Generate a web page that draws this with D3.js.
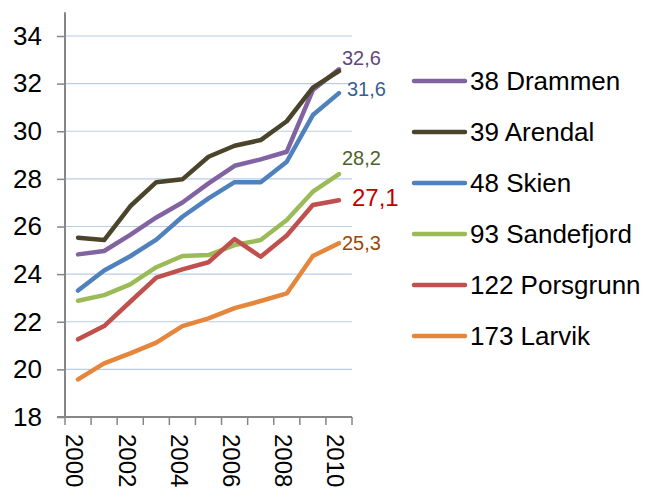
<!DOCTYPE html>
<html>
<head>
<meta charset="utf-8">
<script src="https://cdn.jsdelivr.net/npm/d3@7"></script>
<style>
  body { margin: 0; background: #fff; }
  text { font-family: "Liberation Sans", Arial, sans-serif; }
</style>
</head>
<body>
<div id="chart"></div>
<script>
// data
var years = ["2000", "2001", "2002", "2003", "2004", "2005", "2006", "2007", "2008", "2009", "2010"];
var yTicks = [18, 20, 22, 24, 26, 28, 30, 32, 34];
var yearLabels = ["2000", "2002", "2004", "2006", "2008", "2010"];

var seriesNames = ["38 Drammen", "39 Arendal", "48 Skien", "93 Sandefjord", "122 Porsgrunn", "173 Larvik"];
var drammen    = [24.83, 24.97, 25.65, 26.38, 27.01, 27.81, 28.55, 28.82, 29.14, 31.73, 32.6];
var arendal    = [25.53, 25.43, 26.85, 27.86, 27.98, 28.93, 29.39, 29.63, 30.42, 31.83, 32.53];
var skien      = [23.31, 24.15, 24.75, 25.45, 26.41, 27.18, 27.86, 27.86, 28.72, 30.68, 31.6];
var sandefjord = [22.88, 23.12, 23.57, 24.29, 24.76, 24.8, 25.22, 25.43, 26.27, 27.46, 28.2];
var porsgrunn  = [21.26, 21.82, 22.84, 23.85, 24.2, 24.5, 25.47, 24.73, 25.62, 26.9, 27.1];
var larvik     = [19.58, 20.25, 20.67, 21.12, 21.82, 22.14, 22.57, 22.87, 23.19, 24.76, 25.3];
var endLabels  = ["32,6", null, "31,6", "28,2", "27,1", "25,3"];

var colors = ["#8064A2", "#4A452A", "#4F81BD", "#9BBB59", "#C0504D", "#E6853C"];
var labelColors = ["#5F497A", null, "#376092", "#4F6228", "#C00000", "#984807"];

var width = 647, height = 491;

var svg = d3.select("#chart")
    .append("svg")
    .attr("width", width)
    .attr("height", height);

var allSeries = [drammen, arendal, skien, sandefjord, porsgrunn, larvik];

var x = d3.scaleBand()
    .domain(years)
    .range([65, 352]);

var y = d3.scaleLinear()
    .domain([18, 34])
    .range([417, 36]);

function px(d, i) { return x(years[i]) + x.bandwidth() / 2; }

// gridlines
svg.append("g")
    .selectAll("line")
    .data(yTicks.filter(function (t) { return t > 18; }))
    .enter()
    .append("line")
    .attr("x1", 65)
    .attr("x2", 352)
    .attr("y1", function (d) { return y(d); })
    .attr("y2", function (d) { return y(d); })
    .attr("stroke", "#B9CDE5")
    .attr("stroke-width", 1.2);

// y axis
var yAxis = svg.append("g")
    .attr("transform", "translate(65,0)")
    .call(d3.axisLeft(y).tickValues(yTicks).tickSize(8).tickPadding(15));
yAxis.select(".domain").remove();
yAxis.append("line")
    .attr("x1", 0).attr("x2", 0)
    .attr("y1", y(35)).attr("y2", y(18))
    .attr("stroke", "#868686")
    .attr("stroke-width", 2);
yAxis.selectAll(".tick line").attr("stroke", "#868686").attr("stroke-width", 1.5);
yAxis.selectAll(".tick text")
    .attr("font-size", "26px")
    .attr("fill", "#000");

// x axis
var xAxis = svg.append("g")
    .attr("transform", "translate(0,417)");
xAxis.append("line")
    .attr("x1", 57).attr("x2", 352)
    .attr("stroke", "#868686")
    .attr("stroke-width", 2);
xAxis.selectAll(".xtick")
    .data(years.concat(["end"]))
    .enter()
    .append("line")
    .attr("x1", function (d, i) { return i < years.length ? x(d) : x.range()[1]; })
    .attr("x2", function (d, i) { return i < years.length ? x(d) : x.range()[1]; })
    .attr("y1", 0)
    .attr("y2", 8)
    .attr("stroke", "#868686")
    .attr("stroke-width", 1.5);
xAxis.selectAll(".xlabel")
    .data(yearLabels)
    .enter()
    .append("text")
    .attr("transform", function (d) {
        return "translate(" + (x(d) + x.bandwidth() / 2 - 3) + ",17) rotate(90)";
    })
    .attr("dy", "0.36em")
    .attr("font-size", "24px")
    .attr("fill", "#000")
    .text(function (d) { return d; });

// lines
var line = d3.line()
    .x(px)
    .y(function (d) { return y(d); });

svg.append("g")
    .selectAll("path")
    .data(allSeries)
    .enter()
    .append("path")
    .attr("d", line)
    .attr("fill", "none")
    .attr("stroke", function (d, i) { return colors[i]; })
    .attr("stroke-width", 4.5)
    .attr("stroke-linejoin", "round")
    .attr("stroke-linecap", "round");

// end labels
var labelOffsets = [[3, -4, 20], null, [8, 3, 20], [3, -9, 20], [13, 6, 24], [3, 7, 20]];
var last = years.length - 1;
allSeries.forEach(function (s, i) {
    if (!endLabels[i]) return;
    var o = labelOffsets[i];
    svg.append("text")
        .attr("x", px(null, last) + o[0])
        .attr("y", y(s[last]) + o[1])
        .attr("font-size", o[2] + "px")
        .attr("fill", labelColors[i])
        .text(endLabels[i]);
});

// legend
var legend = svg.append("g")
    .selectAll("g")
    .data(seriesNames)
    .enter()
    .append("g")
    .attr("transform", function (d, i) { return "translate(412," + (81 + i * 51) + ")"; });
legend.append("line")
    .attr("x1", 2).attr("x2", 53)
    .attr("stroke", function (d, i) { return colors[i]; })
    .attr("stroke-width", 4.5)
    .attr("stroke-linecap", "round");
legend.append("text")
    .attr("x", 58)
    .attr("dy", "0.36em")
    .attr("font-size", "26px")
    .attr("fill", "#000")
    .text(function (d) { return d; });
</script>
</body>
</html>
